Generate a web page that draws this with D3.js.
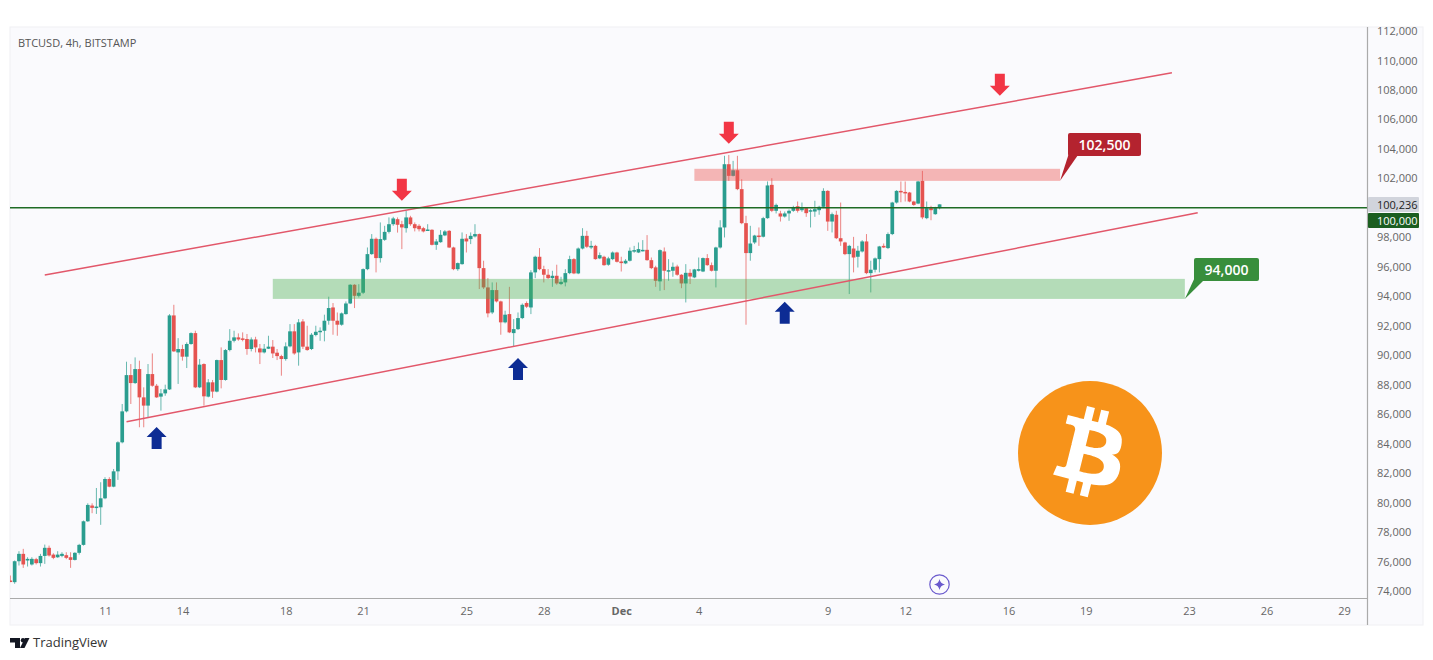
<!DOCTYPE html>
<html lang="en">
<head>
  <meta charset="UTF-8">
  <style>
    html, body { margin: 0; padding: 0; background: #fff; }
    svg { display: block; }
    text { font-family: "Open Sans", "Noto Sans", sans-serif; }
    .axis .domain, .axis line { display: none; }
    .axis text { fill: #666; font-size: 11px; font-family: "Open Sans", sans-serif; }
  </style>
  <script src="https://d3js.org/d3.v7.min.js"></script>
</head>
<body>
  <svg id="chart" width="1433" height="660"></svg>

  <script>
    // first 4h candle, the rest follow one every 4 hours
    const firstCandle = new Date(Date.UTC(2024, 10, 7, 8));

    const opens = [
      74710,74600,76020,76520,76070,75800,76160,75890,76380,76930,
      76470,76290,76380,76430,76290,76110,76590,77130,78730,79800,
      79640,79680,80290,81600,81080,82120,84090,86190,88650,88110,
      89060,87140,86580,88720,87930,87190,87410,87680,92700,90190,
      90420,89900,90760,91500,87820,89400,87190,88160,87530,89670,
      88320,90350,90980,91210,91140,91100,90420,91070,90460,90190,
      90440,90580,90170,89940,89740,90600,91620,90190,92290,90580,
      90420,91370,91590,91660,92340,93240,92340,92070,92790,93510,
      94780,94030,94240,95840,96860,97900,96590,97830,98370,98890,
      99230,98890,98620,99350,98890,98780,98620,98440,98510,97490,
      97670,98130,98440,97310,95840,96180,97920,97880,98060,98220,
      95910,94600,92900,94420,93650,92230,92790,91500,91770,92520,
      93540,93240,95620,96680,95840,95460,95230,95390,94830,94940,
      95570,96520,95550,97240,98100,97310,97420,96570,96680,96140,
      96520,96970,96360,96230,96410,97040,96970,97090,97150,96450,
      95960,95010,97040,95730,95730,96020,95460,94870,95590,95280,
      95730,95680,96590,96110,95730,97310,98670,102960,102170,102550,
      101270,98960,96930,97650,98120,98040,99300,101560,99800,99620,
      99410,99620,99800,100110,99840,99980,99770,99750,99840,100070,
      101150,99070,99530,97940,97650,96860,97240,96680,97040,97720,
      95570,95800,96520,97420,97270,98220,100360,101150,101080,101040,
      100430,100290,101830,99300,99980,99570,99980
    ];
    const highs = [
      75050,76070,76700,76860,76290,76290,76250,76520,77150,77080,
      76560,76700,76630,76630,76630,76630,77200,78780,79950,79950,
      80990,81380,81720,81720,82280,84160,86690,89560,89400,89850,
      89630,87820,89400,90120,88050,87710,88000,92790,93420,91160,
      90710,90870,91550,91660,89740,89450,88380,88320,89700,90530,
      90420,91770,91660,91480,91550,91440,91210,91250,90760,90760,
      91320,91030,90420,90030,90870,92110,92110,92450,92450,92000,
      91500,92000,91890,92750,93970,93540,92900,92900,93650,94820,
      94820,94820,95890,97310,98220,97990,99010,98780,99350,99390,
      99350,99120,99800,99460,99010,98890,98710,98890,98550,97880,
      98490,98490,98490,97360,96290,98330,98220,98330,98890,98260,
      96410,95230,94940,94940,93700,93020,94640,92450,92900,93510,
      93650,95770,96750,97270,96070,95840,95730,96140,95320,95840,
      96750,96590,97310,98620,98440,97760,97490,96970,96750,96680,
      97040,97020,96680,96520,97310,97420,97650,97810,98150,96630,
      96070,97180,97310,96520,96290,96140,95500,96180,95840,95860,
      96630,96630,96860,96290,97360,99160,103530,103590,103190,103530,
      101940,99460,98780,98170,98670,99390,101790,102010,100290,99800,
      99750,99890,100140,100430,100360,100020,99910,100480,100140,101330,
      101200,99680,99800,100360,97700,97490,98030,97420,97810,98220,
      96410,96630,97420,97580,98330,100410,101200,101790,101790,101080,
      100480,101830,102510,100430,100140,100070,100240
    ];
    const lows = [
      74600,74490,75730,75570,75660,75730,75800,75660,75840,76340,
      76160,76250,76290,76160,75570,76070,76470,77080,78690,79280,
      79230,78490,80230,81040,81040,81540,84020,86120,86690,88050,
      85110,85110,85790,87860,87100,86240,87250,87640,90220,88050,
      89630,89130,90710,87770,87770,86580,87140,87100,87480,87750,
      88270,90260,90870,90980,90940,90030,90260,90190,89400,90120,
      90420,89810,89670,88610,89630,90530,90030,89290,90420,90300,
      90350,91280,90980,90940,92070,91390,91320,92000,92750,93470,
      93200,93920,94150,95770,96810,95620,96290,97760,98260,98780,
      98320,97200,98320,98780,98400,98400,98330,98440,97450,97150,
      97630,98080,97270,95770,95730,96140,96970,97540,97990,94490,
      94490,92570,92790,93580,91390,92160,91500,90600,91710,92450,
      93200,92790,95230,95770,94940,95160,94640,94780,94760,94670,
      95500,95500,95500,97180,97270,97200,96480,96520,96070,96070,
      96450,96290,95680,96180,96360,96950,96930,97040,96410,95840,
      94640,94370,94420,95050,95320,95390,94550,93580,94830,95230,
      95680,95640,96070,95680,94600,97240,97990,101830,102130,101200,
      98890,92070,96410,97540,97420,97990,99260,99710,99620,99070,
      99340,99120,99730,99680,99730,99390,98670,99390,99530,99980,
      98440,98330,97880,97420,96790,94150,95620,95950,96970,95500,
      94260,95620,95620,97270,97200,98150,100290,100380,100430,100380,
      100140,100250,99230,99230,99160,99530,99890
    ];
    const closes = [
      74640,76020,76520,75800,76180,76180,75890,76380,76930,76410,
      76250,76470,76520,76250,76110,76590,77130,78730,79840,79640,
      79730,80290,81600,81080,82120,84090,86190,88650,88110,89060,
      87140,86580,88720,87930,87140,87410,87680,92700,90260,90420,
      89900,90760,91500,87820,89360,87210,88160,87530,89670,88320,
      90350,90980,91210,91070,91050,90420,91070,90530,90190,90440,
      90580,90120,89940,89740,90600,91620,90120,92230,90580,90350,
      91390,91590,91660,92340,93200,92340,92070,92840,93510,94780,
      94030,94240,95840,96860,97900,96590,97880,98370,98890,99280,
      98850,98670,99350,98890,98620,98550,98400,98530,97490,97720,
      98170,98400,97310,95840,96250,97900,97720,98100,98220,95910,
      94600,92840,94420,93650,92230,92750,91550,91770,92520,93420,
      93290,95620,96680,95840,95460,95230,95390,94870,94980,95570,
      96520,95550,97240,98100,97360,97420,96520,96790,96110,96570,
      96970,96340,96250,96410,97090,97130,97200,97150,96450,95910,
      95050,97130,95730,95770,96000,95460,94870,95590,95340,95820,
      95840,96590,96110,95730,97310,98670,102960,102170,102550,101270,
      98960,96930,97580,98120,98060,99300,101520,99800,100200,99410,
      99620,99800,100020,99800,99980,99640,99840,99910,100070,101150,
      99070,99570,97940,97720,96860,97420,96630,97090,97720,95570,
      95800,96570,97380,97310,98220,100360,101150,101060,100990,100430,
      100200,101790,99350,99980,99840,99980,100236
    ];

    // 100,000 is not in the list, the level tag sits on that spot
    const priceTicks = [74000,76000,78000,80000,82000,84000,86000,88000,90000,92000,94000,
      96000,98000,102000,104000,106000,108000,110000,112000];
    const dayTicks = [
      [10,11],[10,14],[10,18],[10,21],[10,25],[10,28],[11,1],[11,4],
      [11,9],[11,12],[11,16],[11,19],[11,23],[11,26],[11,29]
    ].map(d => new Date(Date.UTC(2024, d[0], d[1])));

    // drawings on the chart: [date, price]
    const utc = (m, d, h) => new Date(Date.UTC(2024, m, d, h || 0));
    const upperChannel = [[utc(10, 8, 16), 95450], [utc(11, 22, 8), 109160]];
    const lowerChannel = [[utc(10, 11, 20), 85480], [utc(11, 23, 8), 99660]];
    const supportZone = [utc(10, 17, 12), utc(11, 22, 20), 95180, 93820];
    const resistZone = [utc(11, 3, 20), utc(11, 18, 0), 102650, 101830];
    const downArrows = [[utc(10, 22, 12), 101220], [utc(11, 5, 4), 105090], [utc(11, 15, 16), 108350]];
    const upArrows = [[utc(10, 13, 0), 84390], [utc(10, 27, 0), 89070], [utc(11, 7, 8), 92880]];
    const lastPrice = 100236;
    const levelPrice = 100000;

    const GREEN = '#2a9d8f', RED = '#e55350';
    const plot = { left: 10, right: 1367, top: 27, bottom: 598 };

    const svg = d3.select('#chart');
    const x = d3.scaleUtc()
      .domain([dayTicks[0], dayTicks[dayTicks.length - 1]])
      .range([105, 1344]);
    const y = d3.scaleLinear().domain([74000, 112000]).range([591, 31]);

    // panel background
    svg.append('rect')
      .attr('x', plot.left).attr('y', plot.top)
      .attr('width', 1423 - plot.left).attr('height', 625 - plot.top)
      .attr('fill', '#fafafd').attr('stroke', '#f0f0f3');

    svg.append('defs').append('clipPath').attr('id', 'plot-clip')
      .append('rect')
      .attr('x', plot.left).attr('y', plot.top)
      .attr('width', plot.right - plot.left).attr('height', plot.bottom - plot.top);

    const chart = svg.append('g').attr('clip-path', 'url(#plot-clip)');

    // candles
    const candles = chart.selectAll('.candle').data(opens).enter().append('g')
      .attr('class', 'candle')
      .attr('fill', (d, i) => closes[i] >= d ? GREEN : RED)
      .attr('stroke', (d, i) => closes[i] >= d ? GREEN : RED);
    const cx = (d, i) => x(d3.utcHour.offset(firstCandle, i * 4));
    candles.append('line')
      .attr('x1', cx).attr('x2', cx)
      .attr('y1', (d, i) => y(highs[i]))
      .attr('y2', (d, i) => y(lows[i]))
      .attr('stroke-width', 1).attr('stroke-opacity', 0.7);
    candles.append('rect')
      .attr('stroke', 'none')
      .attr('x', (d, i) => cx(d, i) - 1.85)
      .attr('width', 3.7)
      .attr('y', (d, i) => y(Math.max(d, closes[i])))
      .attr('height', (d, i) => Math.max(1.5, Math.abs(y(d) - y(closes[i]))));

    // support and resistance zones
    const zone = (z, fill) => chart.append('rect')
      .attr('x', x(z[0])).attr('width', x(z[1]) - x(z[0]))
      .attr('y', y(z[2])).attr('height', y(z[3]) - y(z[2]))
      .attr('fill', fill);
    zone(supportZone, 'rgba(76,175,80,0.4)');
    zone(resistZone, 'rgba(235,85,80,0.42)');

    // channel lines
    const line = d3.line().x(d => x(d[0])).y(d => y(d[1]));
    [upperChannel, lowerChannel].forEach(c => {
      chart.append('path').attr('d', line(c))
        .attr('fill', 'none').attr('stroke', '#e2576a').attr('stroke-width', 1.5);
    });

    // 100,000 level
    chart.append('line')
      .attr('x1', plot.left).attr('x2', plot.right)
      .attr('y1', y(levelPrice)).attr('y2', y(levelPrice))
      .attr('stroke', '#1e6b25').attr('stroke-width', 1.5);

    // arrows, drawn pointing down then flipped for the blue ones
    const arrowShape = 'M-5,-11 H5 V1 H10 L0,11 L-10,1 H-5 Z';
    chart.selectAll('.down-arrow').data(downArrows).enter().append('path')
      .attr('class', 'down-arrow').attr('d', arrowShape).attr('fill', '#f23645')
      .attr('transform', d => `translate(${x(d[0])},${y(d[1])})`);
    chart.selectAll('.up-arrow').data(upArrows).enter().append('path')
      .attr('class', 'up-arrow').attr('d', arrowShape).attr('fill', '#0d2c94')
      .attr('transform', d => `translate(${x(d[0])},${y(d[1])}) scale(1,-1)`);

    // callouts
    function callout(tipX, tipY, bx, by, bw, bh, fill, label) {
      svg.append('path')
        .attr('d', `M${tipX},${tipY} L${bx + 2},${by + bh - 6} L${bx + 10},${by + bh - 1} Z`)
        .attr('fill', fill);
      svg.append('rect')
        .attr('x', bx).attr('y', by).attr('width', bw).attr('height', bh)
        .attr('rx', 2).attr('fill', fill);
      svg.append('text')
        .attr('x', bx + bw / 2).attr('y', by + bh / 2 + 5)
        .attr('text-anchor', 'middle').attr('fill', '#fff')
        .attr('font-size', 14).attr('font-weight', 600)
        .text(label);
    }
    callout(x(resistZone[1]), y(resistZone[3]), 1068, 133, 73, 23, '#b4232f', '102,500');
    callout(x(supportZone[1]), y(supportZone[3]), 1194, 258, 65, 23, '#388e3c', '94,000');

    // axes
    const yAxis = d3.axisRight(y)
      .tickValues(priceTicks)
      .tickSize(0).tickPadding(10)
      .tickFormat(d3.format(','));
    svg.append('g').attr('class', 'axis')
      .attr('transform', `translate(${plot.right},0)`)
      .call(yAxis);

    const xAxis = d3.axisBottom(x)
      .tickValues(dayTicks)
      .tickSize(0).tickPadding(9)
      .tickFormat(d => d.getUTCDate() === 1 ? 'Dec' : d.getUTCDate());
    const xAxisG = svg.append('g').attr('class', 'axis')
      .attr('transform', `translate(0,${plot.bottom})`)
      .call(xAxis);
    xAxisG.selectAll('text').filter(d => d.getUTCDate() === 1).attr('font-weight', 700);

    svg.append('line')
      .attr('x1', plot.left).attr('x2', plot.right + 0.5)
      .attr('y1', plot.bottom + 0.5).attr('y2', plot.bottom + 0.5)
      .attr('stroke', '#aaa').attr('stroke-width', 1.2);
    svg.append('line')
      .attr('x1', plot.right + 0.5).attr('x2', plot.right + 0.5)
      .attr('y1', plot.top).attr('y2', 625)
      .attr('stroke', '#aaa').attr('stroke-width', 1.2);

    // price tags on the axis
    function priceTag(top, fill, color, label) {
      svg.append('rect')
        .attr('x', plot.right + 1).attr('y', top).attr('width', 51).attr('height', 15)
        .attr('rx', 1).attr('fill', fill);
      svg.append('text')
        .attr('x', plot.right + 10).attr('y', top + 11.5)
        .attr('fill', color).attr('font-size', 11)
        .text(label);
    }
    priceTag(197, '#d1d4dc', '#222', d3.format(',')(lastPrice));
    priceTag(213, '#1b5e20', '#fff', d3.format(',')(levelPrice));

    // header
    svg.append('text')
      .attr('x', 18).attr('y', 47)
      .attr('fill', '#555').attr('font-size', 11)
      .text('BTCUSD, 4h, BITSTAMP');

    // bitcoin logo
    const logo = svg.append('g').attr('transform', 'translate(1018,381) scale(2.25)');
    logo.append('circle').attr('cx', 32).attr('cy', 32).attr('r', 32).attr('fill', '#f7931a');
    logo.append('path').attr('fill', '#fff')
      .attr('fill-rule', 'evenodd')
      .attr('d', 'M46.103,27.444c0.637-4.258-2.605-6.547-7.038-8.074l1.438-5.768l-3.511-0.875l-1.4,5.616c-0.923-0.23-1.871-0.447-2.813-0.662l1.41-5.653l-3.509-0.875l-1.439,5.766c-0.764-0.174-1.514-0.346-2.242-0.527l0.004-0.018l-4.842-1.209l-0.934,3.75c0,0,2.605,0.597,2.55,0.634c1.422,0.355,1.679,1.296,1.636,2.042l-1.638,6.571c0.098,0.025,0.225,0.061,0.365,0.117c-0.117-0.029-0.242-0.061-0.371-0.092l-2.296,9.205c-0.174,0.432-0.615,1.08-1.609,0.834c0.035,0.051-2.552-0.637-2.552-0.637l-1.743,4.019l4.569,1.139c0.85,0.213,1.683,0.436,2.503,0.646l-1.453,5.834l3.507,0.875l1.439-5.772c0.958,0.26,1.888,0.5,2.798,0.726l-1.434,5.745l3.511,0.875l1.453-5.823c5.987,1.133,10.489,0.676,12.384-4.739c1.527-4.36-0.076-6.875-3.226-8.515C44.028,33.086,45.75,31.436,46.103,27.444L46.103,27.444z M38.08,38.693c-1.085,4.36-8.426,2.003-10.806,1.412l1.928-7.729C31.582,32.97,39.215,34.145,38.08,38.693z M39.166,27.381c-0.99,3.966-7.1,1.951-9.082,1.457l1.748-7.01C33.814,22.322,40.198,23.244,39.166,27.381z');

    // little sparkle badge near the time axis
    svg.append('circle')
      .attr('cx', 939.5).attr('cy', 584.5).attr('r', 9.7)
      .attr('fill', 'none').attr('stroke', '#6a5acd').attr('stroke-width', 1.2);
    svg.append('path')
      .attr('transform', 'translate(939.5,584.5)')
      .attr('d', 'M0,-5.5 Q0.8,-0.8 5.5,0 Q0.8,0.8 0,5.5 Q-0.8,0.8 -5.5,0 Q-0.8,-0.8 0,-5.5 Z')
      .attr('fill', '#6a5acd');

    // TradingView mark
    const tv = svg.append('g').attr('fill', '#131722');
    tv.append('path').attr('d', 'M10,638 H20 V648 H15 V642.5 H10 Z');
    tv.append('circle').attr('cx', 23).attr('cy', 640.3).attr('r', 2.2);
    tv.append('path').attr('d', 'M25,638 H29.5 L24.5,648 H20 Z');
    svg.append('text')
      .attr('x', 33).attr('y', 647)
      .attr('fill', '#333').attr('font-size', 13)
      .text('TradingView');
  </script>
</body>
</html>
